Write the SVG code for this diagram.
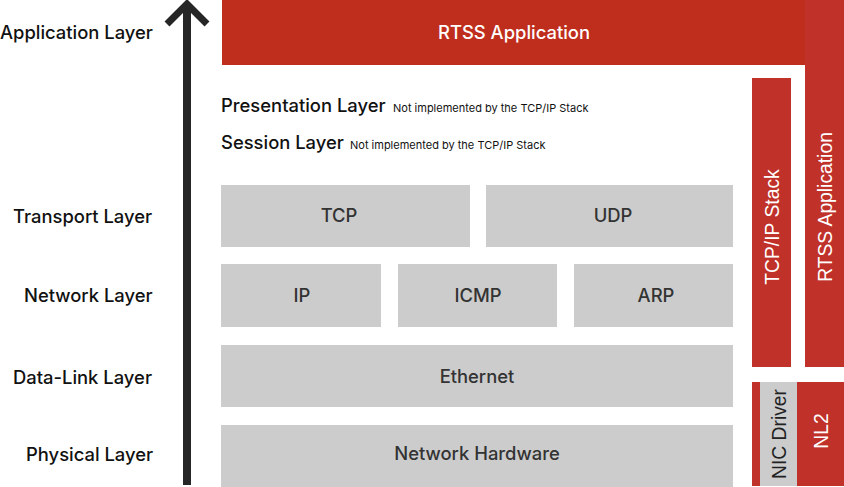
<svg xmlns="http://www.w3.org/2000/svg" width="844" height="487" viewBox="0 0 844 487">
<style>
.gray{fill:#cccccc}
.red{fill:#c0312a}
.lbl{font-family:Inter,"Liberation Sans",sans-serif;font-size:18.4px;font-weight:500;fill:#111}
.box{font-family:Inter,"Liberation Sans",sans-serif;font-size:18.4px;font-weight:500;fill:#333;text-anchor:middle;dominant-baseline:central}
.small{font-family:Inter,"Liberation Sans",sans-serif;font-size:11px;fill:#111}
.vt{font-family:"Liberation Sans",Arial,sans-serif;font-size:19.3px;font-weight:500;text-anchor:middle;dominant-baseline:central}
</style>
<rect width="844" height="487" fill="#ffffff"/>
<g id="layer-labels">
<text class="lbl" x="0" y="39">Application Layer</text>
<text class="lbl" x="13" y="223">Transport Layer</text>
<text class="lbl" x="24" y="302">Network Layer</text>
<text class="lbl" x="13" y="384">Data-Link Layer</text>
<text class="lbl" x="26" y="461">Physical Layer</text>
</g>
<g id="connectors">
<line x1="187" y1="8" x2="187" y2="485" stroke="#262626" stroke-width="8"/>
<polyline points="167,24 187,4 207,24" fill="none" stroke="#262626" stroke-width="7"/>
</g>
<g id="rtss-app-top">
<rect x="222" y="0" width="583" height="65" fill="#bf2e1d"/>
<text class="box" x="514" y="32" style="fill:#fff">RTSS Application</text>
</g>
<g id="rtss-app-side">
<rect x="805" y="0" width="39" height="367" class="red"/>
<text class="vt" fill="#ffffff" transform="translate(825,207) rotate(-90)">RTSS Application</text>
</g>
<g id="tcpip-stack">
<rect x="752" y="78" width="39" height="289" class="red"/>
<text class="vt" fill="#ffffff" transform="translate(772,227) rotate(-90)">TCP/IP Stack</text>
</g>
<g id="presentation">
<text class="lbl" x="221" y="112">Presentation Layer</text>
<text class="small" x="393" y="112">Not implemented by the TCP/IP Stack</text>
</g>
<g id="session">
<text class="lbl" x="221" y="149">Session Layer</text>
<text class="small" x="350" y="149">Not implemented by the TCP/IP Stack</text>
</g>
<g id="tcp">
<rect x="221" y="185" width="249" height="62" class="gray"/>
<text class="box" x="339" y="215">TCP</text>
</g>
<g id="udp">
<rect x="486" y="185" width="247" height="62" class="gray"/>
<text class="box" x="613" y="215">UDP</text>
</g>
<g id="ip">
<rect x="221" y="264" width="160" height="63" class="gray"/>
<text class="box" x="302" y="295">IP</text>
</g>
<g id="icmp">
<rect x="398" y="264" width="159" height="63" class="gray"/>
<text class="box" x="478" y="295">ICMP</text>
</g>
<g id="arp">
<rect x="574" y="264" width="159" height="63" class="gray"/>
<text class="box" x="656" y="295">ARP</text>
</g>
<g id="ethernet">
<rect x="221" y="345" width="512" height="62" class="gray"/>
<text class="box" x="477" y="376">Ethernet</text>
</g>
<g id="network-hardware">
<rect x="221" y="425" width="512" height="62" class="gray"/>
<text class="box" x="477" y="453">Network Hardware</text>
</g>
<g id="nic-driver">
<rect x="752" y="382" width="8" height="104" class="red"/>
<rect x="760" y="382" width="37" height="104" class="gray"/>
<text class="vt" fill="#222222" transform="translate(779,434) rotate(-90)">NIC Driver</text>
</g>
<g id="nl2">
<rect x="797" y="382" width="47" height="104" class="red"/>
<text class="vt" fill="#ffffff" transform="translate(821,431) rotate(-90)">NL2</text>
</g>
</svg>
